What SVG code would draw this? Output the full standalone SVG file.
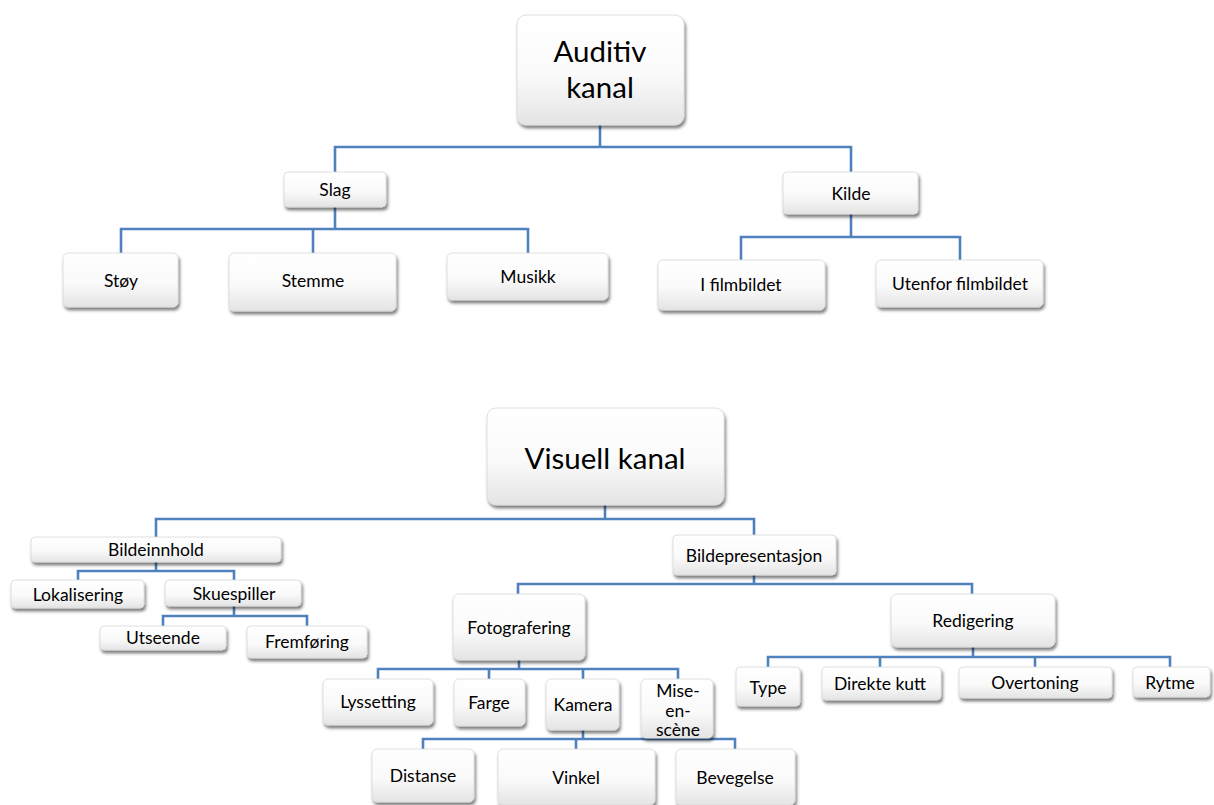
<svg xmlns="http://www.w3.org/2000/svg" width="1214" height="805" viewBox="0 0 1214 805">
<defs>
<linearGradient id="g" x1="0" y1="0" x2="0" y2="1">
<stop offset="0" stop-color="#ffffff"/>
<stop offset="0.55" stop-color="#fafafa"/>
<stop offset="1" stop-color="#e4e4e4"/>
</linearGradient>
<filter id="sh" x="-10%" y="-10%" width="125%" height="140%">
<feDropShadow dx="1.5" dy="3" stdDeviation="1.8" flood-color="#000" flood-opacity="0.5"/>
</filter>
</defs>
<style>
.b{fill:url(#g);stroke:#d8d8d8;stroke-width:0.8;filter:url(#sh)}
text{font-family:Lato,"Open Sans","Liberation Sans",sans-serif;fill:#000;text-anchor:middle;dominant-baseline:central}
.s{font-size:17.5px}
.l{font-size:29.5px}
.c{fill:none;stroke:#4f81bd;stroke-width:2.6}
</style>
<rect width="1214" height="805" fill="#fff"/>
<g id="connectors" class="c">
<path d="M600,125V147M335,172V147H851V172"/>
<path d="M335,207V229M121,253V229H528V253M313,229V253"/>
<path d="M851,214V237M741,260V237H960V260"/>
<path d="M605,505V519M156,537V519H754V535"/>
<path d="M156,562V571M78,580V571H234V580"/>
<path d="M234,606V616M163,626V616H307V626"/>
<path d="M754,575V584M518,594V584H972V594"/>
<path d="M519,660V669M378,679V669H678V679M489,669V679M583,669V679"/>
<path d="M583,730V739M423,749V739H735V749M576,739V749"/>
<path d="M973,647V657M768,667V657H1170V667M880,657V667M1035,657V667"/>
</g>
<g id="auditiv"><rect class="b" x="517" y="15" width="167" height="110" rx="9"/><text class="l" x="600" y="50">Auditiv</text><text class="l" x="600" y="86">kanal</text></g>
<g id="slag"><rect class="b" x="284" y="172" width="102" height="35" rx="4"/><text class="s" x="335" y="189">Slag</text></g>
<g id="kilde"><rect class="b" x="783" y="172" width="135" height="42" rx="4"/><text class="s" x="851" y="193">Kilde</text></g>
<g id="stoy"><rect class="b" x="63" y="253" width="115" height="54" rx="5"/><text class="s" x="121" y="280">Støy</text></g>
<g id="stemme"><rect class="b" x="229" y="253" width="167" height="58" rx="5"/><text class="s" x="313" y="280">Stemme</text></g>
<g id="musikk"><rect class="b" x="447" y="253" width="161" height="47" rx="5"/><text class="s" x="528" y="276">Musikk</text></g>
<g id="ifilm"><rect class="b" x="658" y="260" width="167" height="50" rx="5"/><text class="s" x="741" y="284">I filmbildet</text></g>
<g id="utenfor"><rect class="b" x="876" y="260" width="167" height="47" rx="5"/><text class="s" x="960" y="283">Utenfor filmbildet</text></g>
<g id="visuell"><rect class="b" x="487" y="408" width="237" height="97" rx="9"/><text class="l" x="605" y="457">Visuell kanal</text></g>
<g id="bildeinnhold"><rect class="b" x="31" y="537" width="250" height="25" rx="4"/><text class="s" x="156" y="549">Bildeinnhold</text></g>
<g id="bildepresentasjon"><rect class="b" x="673" y="535" width="163" height="40" rx="4"/><text class="s" x="754" y="555">Bildepresentasjon</text></g>
<g id="lokalisering"><rect class="b" x="11" y="580" width="133" height="28" rx="4"/><text class="s" x="78" y="594">Lokalisering</text></g>
<g id="skuespiller"><rect class="b" x="165" y="580" width="136" height="26" rx="4"/><text class="s" x="234" y="593">Skuespiller</text></g>
<g id="utseende"><rect class="b" x="100" y="626" width="126" height="24" rx="4"/><text class="s" x="163" y="637">Utseende</text></g>
<g id="fremforing"><rect class="b" x="247" y="626" width="120" height="32" rx="4"/><text class="s" x="307" y="641">Fremføring</text></g>
<g id="fotografering"><rect class="b" x="453" y="594" width="132" height="66" rx="6"/><text class="s" x="519" y="627">Fotografering</text></g>
<g id="redigering"><rect class="b" x="891" y="594" width="164" height="53" rx="6"/><text class="s" x="973" y="620">Redigering</text></g>
<g id="lyssetting"><rect class="b" x="323" y="679" width="110" height="46" rx="5"/><text class="s" x="378" y="701">Lyssetting</text></g>
<g id="farge"><rect class="b" x="454" y="679" width="71" height="47" rx="5"/><text class="s" x="489" y="702">Farge</text></g>
<g id="kamera"><rect class="b" x="546" y="679" width="73" height="51" rx="5"/><text class="s" x="583" y="704">Kamera</text></g>
<g id="mise"><rect class="b" x="641" y="679" width="72" height="59" rx="5"/><text class="s" x="678" y="690">Mise-</text><text class="s" x="678" y="710">en-</text><text class="s" x="678" y="729">scène</text></g>
<g id="distanse"><rect class="b" x="372" y="749" width="102" height="53" rx="5"/><text class="s" x="423" y="775">Distanse</text></g>
<g id="vinkel"><rect class="b" x="498" y="749" width="157" height="56" rx="5"/><text class="s" x="576" y="777">Vinkel</text></g>
<g id="bevegelse"><rect class="b" x="676" y="749" width="119" height="56" rx="5"/><text class="s" x="735" y="777">Bevegelse</text></g>
<g id="type"><rect class="b" x="736" y="667" width="64" height="39" rx="4"/><text class="s" x="768" y="687">Type</text></g>
<g id="direkte"><rect class="b" x="822" y="667" width="119" height="33" rx="4"/><text class="s" x="880" y="683">Direkte kutt</text></g>
<g id="overtoning"><rect class="b" x="959" y="667" width="153" height="31" rx="4"/><text class="s" x="1035" y="682">Overtoning</text></g>
<g id="rytme"><rect class="b" x="1133" y="667" width="77" height="30" rx="4"/><text class="s" x="1170" y="682">Rytme</text></g>
</svg>
